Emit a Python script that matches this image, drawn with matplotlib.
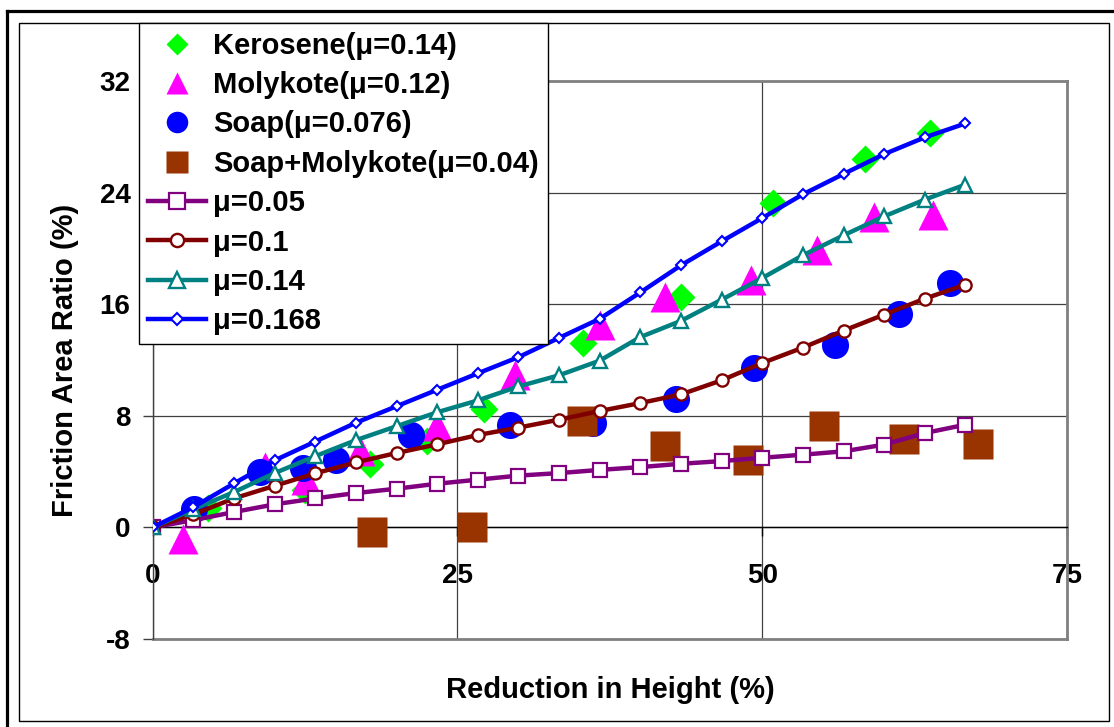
import matplotlib
matplotlib.use("Agg")
import matplotlib.pyplot as plt
from matplotlib.lines import Line2D
from matplotlib.patches import Rectangle

plt.rcParams['font.family'] = ['Liberation Sans', 'DejaVu Sans']
plt.rcParams['font.weight'] = 'bold'
plt.rcParams['axes.unicode_minus'] = False

# measured points
kero_x = [4.5, 12.5, 17.8, 22.5, 27.2, 35.3, 43.3, 50.9, 58.4, 63.8]
kero_y = [1.4, 2.7, 4.55, 6.2, 8.5, 13.2, 16.5, 23.25, 26.4, 28.26]

moly_x = [2.5, 9.2, 12.6, 17.0, 23.3, 29.7, 36.7, 42.0, 49.1, 54.5, 59.2, 64.0]
moly_y = [-0.8, 4.3, 3.4, 5.5, 7.3, 10.9, 14.5, 16.5, 17.7, 19.85, 22.24, 22.36]

soap_x = [3.4, 8.8, 12.35, 15.0, 21.2, 29.3, 36.1, 42.9, 49.35, 56.0, 61.2, 65.4]
soap_y = [1.34, 3.95, 4.25, 4.8, 6.6, 7.33, 7.5, 9.22, 11.42, 13.04, 15.27, 17.51]

sm_x = [18.0, 26.2, 35.2, 42.0, 48.8, 55.1, 61.6, 67.7]
sm_y = [-0.33, 0.05, 7.62, 5.8, 4.8, 7.3, 6.3, 6.0]

# model curves
red_x = [0, 3.33, 6.67, 10, 13.33, 16.67, 20, 23.33, 26.67, 30, 33.33,
         36.67, 40, 43.33, 46.67, 50, 53.33, 56.67, 60, 63.33, 66.67]
mu005 = [0, 0.52, 1.1, 1.65, 2.08, 2.46, 2.77, 3.13, 3.42, 3.71, 3.89,
         4.12, 4.32, 4.56, 4.75, 4.99, 5.21, 5.45, 5.93, 6.76, 7.36]
mu01 = [0, 0.93, 2.08, 2.98, 3.87, 4.66, 5.33, 5.95, 6.62, 7.15, 7.72,
        8.34, 8.91, 9.53, 10.54, 11.78, 12.88, 14.1, 15.25, 16.39, 17.4]
mu014 = [0, 1.3, 2.53, 3.89, 5.1, 6.25, 7.25, 8.25, 9.1, 10.1, 10.9,
         11.95, 13.64, 14.8, 16.32, 17.87, 19.5, 20.93, 22.29, 23.49, 24.57]
mu0168 = [0, 1.45, 3.15, 4.8, 6.15, 7.5, 8.68, 9.86, 11.04, 12.2, 13.58,
          14.95, 16.84, 18.78, 20.5, 22.17, 23.87, 25.33, 26.75, 27.95, 28.95]

W, H = 1114, 727
fig = plt.figure(figsize=(W / 100, H / 100), dpi=100)
ax = fig.add_axes([152.7 / W, 1 - 639 / H, (1067 - 152.7) / W, (639 - 80.9) / H])

# scatter data (drawn under the curves)
ax.plot(kero_x, kero_y, 'D', color='#00FF00', ms=14.6, mec='none', zorder=3)
ax.plot(moly_x, moly_y, '^', color='#FF00FF', ms=21, mec='none', zorder=3)
ax.plot(soap_x, soap_y, 'o', color='#0000FF', ms=19.5, mec='none', zorder=3)
ax.plot(sm_x, sm_y, 's', color='#993300', ms=21, mec='none', zorder=3)

ax.plot(red_x, mu005, '-s', color='#800080', lw=3.2, ms=10.5, mfc='white', mew=1.6, zorder=4)
ax.plot(red_x, mu01, '-o', color='#800000', lw=3.2, ms=8.8, mfc='white', mew=1.7, zorder=4)
ax.plot(red_x, mu014, '-^', color='#008080', lw=3.2, ms=10.5, mfc='white', mew=1.7, zorder=4)
ax.plot(red_x, mu0168, '-D', color='#0000FF', lw=3.2, ms=5.5, mfc='white', mew=1.5, zorder=4)

ax.set_xlim(0, 75)
ax.set_ylim(-8, 32)
ax.set_xticks([0, 25, 50, 75])
ax.set_yticks([-8, 0, 8, 16, 24, 32])
ax.grid(True, color='#404040', lw=0.9, zorder=0)
ax.set_axisbelow(True)

ax.spines['bottom'].set_position(('data', 0))
ax.spines['bottom'].set_color('black')
ax.spines['bottom'].set_linewidth(1.0)
ax.spines['left'].set_color('#404040')
ax.spines['left'].set_linewidth(1.0)
for s in ['top', 'right']:
    ax.spines[s].set_color('#808080')
    ax.spines[s].set_linewidth(2)
ax.axhline(-8, color='#808080', lw=2, clip_on=False, zorder=1)

ax.tick_params(axis='x', direction='out', length=6.5, width=1, color='black',
               pad=19, labelsize=20)
ax.tick_params(axis='y', direction='out', length=7, width=1, color='#404040',
               pad=9, labelsize=20)
for lab in ax.get_xticklabels() + ax.get_yticklabels():
    lab.set_fontweight('bold')

fig.text(65 / W, 1 - 360 / H, 'Friction Area Ratio (%)', rotation=90,
         ha='center', va='center', fontsize=21, fontweight='bold')
fig.text(610 / W, 1 - 690 / H, 'Reduction in Height (%)',
         ha='center', va='center', fontsize=21, fontweight='bold')

handles = [
    Line2D([], [], ls='none', marker='D', color='#00FF00', ms=10.8, mec='none'),
    Line2D([], [], ls='none', marker='^', color='#FF00FF', ms=15.5, mec='none'),
    Line2D([], [], ls='none', marker='o', color='#0000FF', ms=15.5, mec='none'),
    Line2D([], [], ls='none', marker='s', color='#993300', ms=15.5, mec='none'),
    Line2D([], [], ls='-', marker='s', color='#800080', lw=3.2, ms=12, mfc='white', mew=1.6),
    Line2D([], [], ls='-', marker='o', color='#800000', lw=3.2, ms=9.5, mfc='white', mew=1.7),
    Line2D([], [], ls='-', marker='^', color='#008080', lw=3.2, ms=11, mfc='white', mew=1.7),
    Line2D([], [], ls='-', marker='D', color='#0000FF', lw=3.2, ms=6, mfc='white', mew=1.5),
]
labels = ['Kerosene(μ=0.14)', 'Molykote(μ=0.12)', 'Soap(μ=0.076)',
          'Soap+Molykote(μ=0.04)', 'μ=0.05', 'μ=0.1', 'μ=0.14', 'μ=0.168']
leg = fig.legend(handles, labels, loc='upper left',
                 bbox_to_anchor=(139 / W, 1 - 23 / H), bbox_transform=fig.transFigure,
                 prop={'size': 21, 'weight': 'bold'}, numpoints=1,
                 handlelength=2.0, handletextpad=0.24, labelspacing=0.39,
                 borderpad=0.3, borderaxespad=0, fancybox=False, framealpha=1,
                 edgecolor='black')
leg.get_frame().set_linewidth(1.0)
leg.set_zorder(10)

# chart area frames
fig.add_artist(Rectangle((18.6 / W, 1 - 721 / H), (1109 - 18.6) / W, (721 - 22.5) / H,
                         transform=fig.transFigure, fill=False, ec='black', lw=1.0))
fig.add_artist(Line2D([6.6 / W, 6.6 / W], [0, 1 - 10.5 / H], transform=fig.transFigure,
                      color='black', lw=2.3))
fig.add_artist(Line2D([6.6 / W, 1], [1 - 10.5 / H, 1 - 10.5 / H], transform=fig.transFigure,
                      color='black', lw=2.3))

fig.savefig('out.png', dpi=100)
